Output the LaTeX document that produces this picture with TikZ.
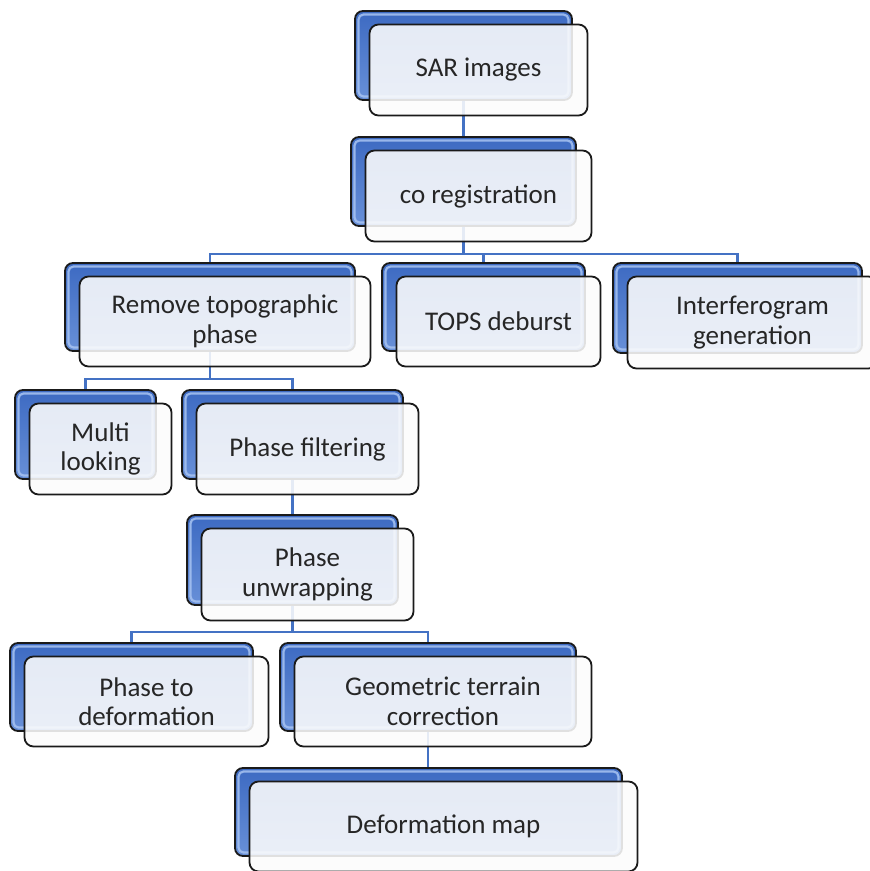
\documentclass[tikz,border=0pt]{standalone}
\usepackage{fontspec}
\setmainfont{Carlito}
\usetikzlibrary{calc}
\pgfdeclarelayer{background}
\pgfsetlayers{background,main}
\definecolor{boxtop}{HTML}{3D6AC2}
\definecolor{boxbot}{HTML}{6890D8}
\definecolor{bevel}{HTML}{A8C4F2}
\definecolor{linkblue}{HTML}{4472C4}
\definecolor{txt}{HTML}{262626}
\definecolor{edge}{HTML}{1A1A1A}
\definecolor{frontfill}{HTML}{FCFCFC}
\tikzset{
  backbox/.style={draw=edge, line width=1.8pt, top color=boxtop, bottom color=boxbot,
    rounded corners=8pt, inner sep=0pt,
    path picture={\draw[bevel, line width=2.2pt, rounded corners=5pt, opacity=0.85]
      ([shift={(3.5pt,-3.5pt)}]path picture bounding box.north west) rectangle
      ([shift={(-3.5pt,3.5pt)}]path picture bounding box.south east);}},
  frontbox/.style={draw=edge, line width=1.8pt, fill=frontfill, fill opacity=0.88,
    text opacity=1, rounded corners=9pt, inner sep=2pt, align=center, text=txt,
    font=\fontsize{27}{29.5}\selectfont},
  conn/.style={draw=linkblue, line width=2.3pt}
}
\newcommand\pbox[6]{%
  \pgfmathsetmacro\bw{#4-#2}\pgfmathsetmacro\bh{#5-#3}%
  \pgfmathsetmacro\bcx{(#2+#4)/2}\pgfmathsetmacro\bcy{(#3+#5)/2}%
  \node[backbox, minimum width=\bw pt, minimum height=\bh pt] (#1b) at (\bcx,\bcy) {};
  \node[frontbox, minimum width=\bw pt+1pt, minimum height=\bh pt+2pt] (#1) at (\bcx+15,\bcy+14.5) {#6};
}
\begin{document}
\begin{tikzpicture}[x=1pt,y=-1pt]
\useasboundingbox (0,0) rectangle (870,871);
\pbox{sar}{355}{11}{572}{100}{SAR images}
\pbox{coreg}{351}{137}{576}{226}{co registration}
\pbox{remove}{65}{263}{355}{351}{Remove topographic\\phase}
\pbox{tops}{382}{263}{585}{351}{TOPS deburst}
\pbox{interf}{613}{263}{862}{353}{Interferogram\\generation}
\pbox{multi}{15}{390}{156}{479}{Multi\\looking}
\pbox{filt}{182}{390}{403}{479}{Phase filtering}
\pbox{unw}{187}{515}{398}{605}{Phase\\unwrapping}
\pbox{pdef}{10}{643}{253}{731}{Phase to\\deformation}
\pbox{geo}{280}{643}{576}{731}{Geometric terrain\\correction}
\pbox{dmap}{235}{768}{622}{856}{Deformation map}
\begin{pgfonlayer}{background}
  \coordinate (j1) at ($(coregb.south)+(0,27)$);
  \coordinate (j2) at ($(removeb.south)+(0,27)$);
  \coordinate (j3) at ($(unwb.south)+(0,26)$);
  \draw[conn] (sarb.south) -- (sarb.south |- coregb.north);
  \draw[conn] (coregb.south) -- (j1) -| (removeb.north);
  \draw[conn] (j1) -| (topsb.north);
  \draw[conn] (j1) -| (interfb.north);
  \draw[conn] (removeb.south) -- (j2) -| (multib.north);
  \draw[conn] (j2) -| (filtb.north);
  \draw[conn] (filtb.south) -- (filtb.south |- unwb.north);
  \draw[conn] (unwb.south) -- (j3) -| (pdefb.north);
  \draw[conn] (j3) -| (geob.north);
  \draw[conn] (geob.south) -- (geob.south |- dmapb.north);
\end{pgfonlayer}
\end{tikzpicture}
\end{document}
